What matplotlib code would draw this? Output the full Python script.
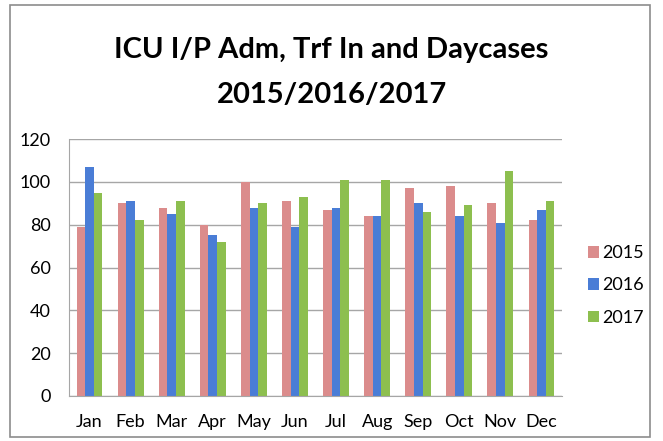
import numpy as np
import matplotlib
matplotlib.use('Agg')
import matplotlib.pyplot as plt
from matplotlib.patches import Rectangle

# chart data
months = ['Jan', 'Feb', 'Mar', 'Apr', 'May', 'Jun',
          'Jul', 'Aug', 'Sep', 'Oct', 'Nov', 'Dec']
years = ['2015', '2016', '2017']
vals_2015 = [79, 90, 88, 80, 100, 91, 87, 84, 97, 98, 90, 82]
vals_2016 = [107, 91, 85, 75, 88, 79, 88, 84, 90, 84, 81, 87]
vals_2017 = [95, 82, 91, 72, 90, 93, 101, 101, 86, 89, 105, 91]
y_ticks = [0, 20, 40, 60, 80, 100, 120]

colors = ['#DB8C8C', '#4A7DD6', '#8DBF4F']

# Lato is the closest installed thing to Calibri
plt.rcParams['font.family'] = ['Lato', 'DejaVu Sans']

fig = plt.figure(figsize=(6.63, 4.41), dpi=100)

# outer frame of the chart
fig.patches.append(Rectangle((10 / 663, 1 - 437 / 441), 640 / 663, 432 / 441,
                             transform=fig.transFigure, fill=False,
                             edgecolor='#8C8C8C', linewidth=1.2))

fig.text(0.5, 1 - 50 / 441, 'ICU I/P Adm, Trf In and Daycases',
         ha='center', va='center', fontsize=21, fontweight='bold')
fig.text(0.5, 1 - 95 / 441, '2015/2016/2017',
         ha='center', va='center', fontsize=21, fontweight='bold')

ax = fig.add_axes([69 / 663, 1 - 396 / 441, (562 - 69) / 663, (396 - 139) / 441])

x = np.arange(len(months))
width = 0.21
series = [vals_2015, vals_2016, vals_2017]
for i, (vals, col, lab) in enumerate(zip(series, colors, years)):
    ax.bar(x + (i - 1) * width, vals, width, color=col, label=lab, zorder=2)

ax.set_xlim(-0.5, len(months) - 0.5)
ax.set_ylim(0, 120)
ax.set_yticks(y_ticks)
ax.set_xticks(x)
ax.set_xticklabels(months)
ax.yaxis.grid(True, color='#A6A6A6', linewidth=1.0, zorder=0)
ax.tick_params(axis='both', length=0, labelsize=13)
ax.tick_params(axis='x', pad=13)
ax.tick_params(axis='y', pad=13)

for side in ['top', 'right']:
    ax.spines[side].set_visible(False)
for side in ['left', 'bottom']:
    ax.spines[side].set_color('#A6A6A6')

leg = ax.legend(loc='center left', bbox_to_anchor=(1.02, 0.43), frameon=False,
                fontsize=13, handlelength=0.6, handleheight=0.6,
                handletextpad=0.2, labelspacing=0.9)

fig.savefig('out.png', dpi=100)
